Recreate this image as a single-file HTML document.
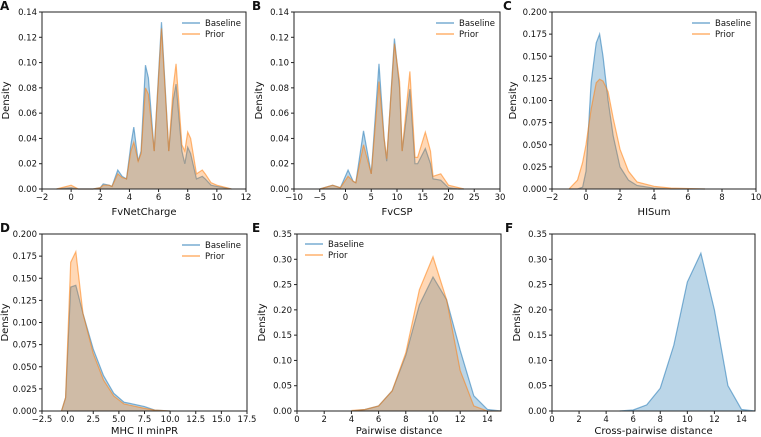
<!DOCTYPE html>
<html><head><meta charset="utf-8"><style>
body{margin:0;background:#fff;}
svg{display:block;font-family:"DejaVu Sans","Liberation Sans",sans-serif;}
</style></head><body>
<svg id="fig" width="761" height="437" viewBox="0 0 761 437"></svg>
<script>
// Panel A: FvNetCharge
const aX=[-1,0,0.5,1.5,2,2.2,2.6,2.8,3.2,3.5,3.8,4.1,4.3,4.6,4.8,5.1,5.3,5.7,6.2,6.7,7.0,7.2,7.6,7.8,8.0,8.2,8.6,9.0,9.2,9.6,10,11];
const aBase=[0,0.001,0,0,0.001,0.004,0.003,0.002,0.015,0.01,0.008,0.035,0.049,0.022,0.03,0.098,0.088,0.03,0.132,0.03,0.07,0.083,0.03,0.02,0.033,0.028,0.008,0.01,0.008,0.003,0.002,0];
const aPrior=[0,0.003,0,0,0.001,0.003,0.003,0.002,0.012,0.009,0.008,0.03,0.037,0.022,0.028,0.08,0.075,0.03,0.127,0.03,0.08,0.099,0.035,0.03,0.045,0.04,0.012,0.015,0.012,0.005,0.003,0];
// Panel B: FvCSP
const bX=[-5,-2.5,-1,0.5,1.5,2,3.5,5,6.5,7.5,8,9.5,10.5,11,12.5,13.5,14,15.5,16.5,17,18.5,19.5,20,21,22,23];
const bBase=[0,0.003,0.001,0.015,0.006,0.005,0.046,0.012,0.099,0.04,0.022,0.119,0.08,0.03,0.079,0.02,0.02,0.032,0.02,0.008,0.007,0.003,0.001,0.0005,0,0];
const bPrior=[0,0.003,0.001,0.01,0.006,0.005,0.035,0.012,0.085,0.04,0.024,0.115,0.085,0.03,0.093,0.025,0.025,0.045,0.03,0.01,0.012,0.006,0.003,0.002,0.001,0];
// Panel C: HISum
const cX=[-1,-0.5,-0.2,0,0.3,0.6,0.8,1.0,1.3,1.6,2,2.5,3,4,5,7];
const cBase=[0,0,0.002,0.02,0.12,0.165,0.175,0.15,0.1,0.06,0.025,0.01,0.004,0.001,0,0];
const cPrior=[0,0.01,0.03,0.05,0.09,0.12,0.124,0.122,0.11,0.08,0.045,0.02,0.008,0.003,0.001,0];
// Panel D: MHC II minPR
const dX=[-0.6,-0.2,0.3,0.8,1.5,2.5,3.5,4.5,5.5,7.5,8.5,10];
const dBase=[0,0.015,0.14,0.142,0.11,0.07,0.04,0.02,0.01,0.005,0.001,0];
const dPrior=[0,0.015,0.168,0.18,0.11,0.065,0.035,0.017,0.008,0.003,0.001,0];
// Panel E: Pairwise distance
const eX=[4,5,6,7,8,9,10,11,12,13,14,15];
const eBase=[0,0.003,0.01,0.04,0.11,0.21,0.265,0.22,0.12,0.03,0.003,0];
const ePrior=[0.001,0.003,0.01,0.04,0.115,0.24,0.305,0.22,0.08,0.01,0,0];
// Panel F: Cross-pairwise distance
const fX=[5,6,7,8,9,10,11,12,13,14,15];
const fBase=[0,0.002,0.012,0.045,0.13,0.255,0.312,0.2,0.05,0.003,0];
// Tick labels
const aXt=[-2,0,2,4,6,8,10,12], aYt=["0.00","0.02","0.04","0.06","0.08","0.10","0.12","0.14"];
const bXt=[-10,-5,0,5,10,15,20,25,30];
const cXt=[-2,0,2,4,6,8,10], cYt=["0.000","0.025","0.050","0.075","0.100","0.125","0.150","0.175","0.200"];
const dXt=["-2.5","0.0","2.5","5.0","7.5","10.0","12.5","15.0","17.5"];
const eXt=[0,2,4,6,8,10,12,14], eYt=["0.00","0.05","0.10","0.15","0.20","0.25","0.30","0.35"];

const NS="http://www.w3.org/2000/svg";
const svg=document.getElementById('fig');
function mk(tag,attrs,parent,txt){const e=document.createElementNS(NS,tag);for(const k in attrs)e.setAttribute(k,attrs[k]);if(txt!==undefined)e.textContent=txt;(parent||svg).appendChild(e);return e;}
const BLUE="#1f77b4",ORANGE="#ff7f0e";

function panel(o){
  const g=mk('g',{});
  
  
  const L=o.box[0],T=o.box[1],R=o.box[2],B=o.box[3];
  const sx=v=>L+(v-o.xr[0])/(o.xr[1]-o.xr[0])*(R-L);
  const sy=v=>B-(v-o.yr[0])/(o.yr[1]-o.yr[0])*(B-T);
  o.series.forEach(s=>{
    let d='M'+sx(s.x[0])+','+sy(0);
    s.x.forEach((xv,i)=>{d+=' L'+sx(xv).toFixed(2)+','+sy(s.y[i]).toFixed(2);});
    d+=' L'+sx(s.x[s.x.length-1])+','+sy(0)+' Z';
    const a=mk('path',{d:d,fill:s.c,'fill-opacity':0.3,stroke:'none'},g);
    
    
    let ld='';
    s.x.forEach((xv,i)=>{ld+=(i?' L':'M')+sx(xv).toFixed(2)+','+sy(s.y[i]).toFixed(2);});
    const l=mk('path',{d:ld,fill:'none',stroke:s.c,'stroke-opacity':0.55,'stroke-width':1.2},g);
    
    
  });
  mk('rect',{x:L,y:T,width:R-L,height:B-T,fill:'none',stroke:'#222','stroke-width':1},g);
  o.xt.forEach(t=>{
    const x=sx(parseFloat(t));
    mk('line',{x1:x,x2:x,y1:B,y2:B+3,stroke:'#222'},g);
    const tx=mk('text',{x:x,y:B+11,'font-size':8.5,'text-anchor':'middle',fill:'#111'},g,String(t).replace('-','\u2212'));
    
    
  });
  o.yt.forEach(t=>{
    const y=sy(parseFloat(t));
    mk('line',{x1:L-3,x2:L,y1:y,y2:y,stroke:'#222'},g);
    const ty=mk('text',{x:L-5,y:y+3,'font-size':8.5,'text-anchor':'end',fill:'#111'},g,t);
    
    
  });
  const xt=mk('text',{x:(L+R)/2,y:B+o.xto,'font-size':10,'text-anchor':'middle',fill:'#111'},g,o.xlabel);
  
  
  const yl=mk('text',{x:0,y:0,'font-size':10,'text-anchor':'middle',fill:'#111',transform:'translate('+(o.ylx)+','+((T+B)/2)+') rotate(-90)'},g,'Density');
  
  
  const pl=mk('text',{x:o.lp[0],y:o.lp[1],'font-size':12,'font-weight':'bold',fill:'#111'},g,o.letter);
  
  
  if(o.legend){
    const lx=o.legend[0],ly=o.legend[1];
    [['Baseline',BLUE],['Prior',ORANGE]].forEach((e,i)=>{
      const lg=mk('g',{},g);
      
      
      mk('line',{x1:lx,x2:lx+18,y1:ly+i*11,y2:ly+i*11,stroke:e[1],'stroke-opacity':0.6,'stroke-width':1.5},lg);
      mk('text',{x:lx+23,y:ly+i*11+3,'font-size':8.5,fill:'#111'},lg,e[0]);
    });
  }
}
panel({letter:'A',lp:[0,10],box:[42,12,246,189],xr:[-2,12],yr:[0,0.14],xt:aXt,yt:aYt,xlabel:'FvNetCharge',xto:26,ylx:9,legend:[182,23],
  series:[{name:'Baseline',x:aX,y:aBase,c:BLUE},{name:'Prior',x:aX,y:aPrior,c:ORANGE}]});
panel({letter:'B',lp:[252,10],box:[294,12,500,189],xr:[-10,30],yr:[0,0.14],xt:bXt,yt:aYt,xlabel:'FvCSP',xto:26,ylx:262,legend:[436,23],
  series:[{name:'Baseline',x:bX,y:bBase,c:BLUE},{name:'Prior',x:bX,y:bPrior,c:ORANGE}]});
panel({letter:'C',lp:[503,10],box:[552,12,756,189],xr:[-2,10],yr:[0,0.2],xt:cXt,yt:cYt,xlabel:'HISum',xto:26,ylx:516,legend:[692,23],
  series:[{name:'Baseline',x:cX,y:cBase,c:BLUE},{name:'Prior',x:cX,y:cPrior,c:ORANGE}]});
panel({letter:'D',lp:[0,232],box:[42,234,247,411],xr:[-2.5,17.5],yr:[0,0.2],xt:dXt,yt:cYt,xlabel:'MHC II minPR',xto:23,ylx:8,legend:[182,245],
  series:[{name:'Baseline',x:dX,y:dBase,c:BLUE},{name:'Prior',x:dX,y:dPrior,c:ORANGE}]});
panel({letter:'E',lp:[252,232],box:[297,234,501,411],xr:[0,15],yr:[0,0.35],xt:eXt,yt:eYt,xlabel:'Pairwise distance',xto:23,ylx:265,legend:[305,244],
  series:[{name:'Baseline',x:eX,y:eBase,c:BLUE},{name:'Prior',x:eX,y:ePrior,c:ORANGE}]});
panel({letter:'F',lp:[505,232],box:[552,234,755,411],xr:[0,15],yr:[0,0.35],xt:eXt,yt:eYt,xlabel:'Cross-pairwise distance',xto:23,ylx:520,legend:null,
  series:[{name:'Baseline',x:fX,y:fBase,c:BLUE}]});
</script>
</body></html>
